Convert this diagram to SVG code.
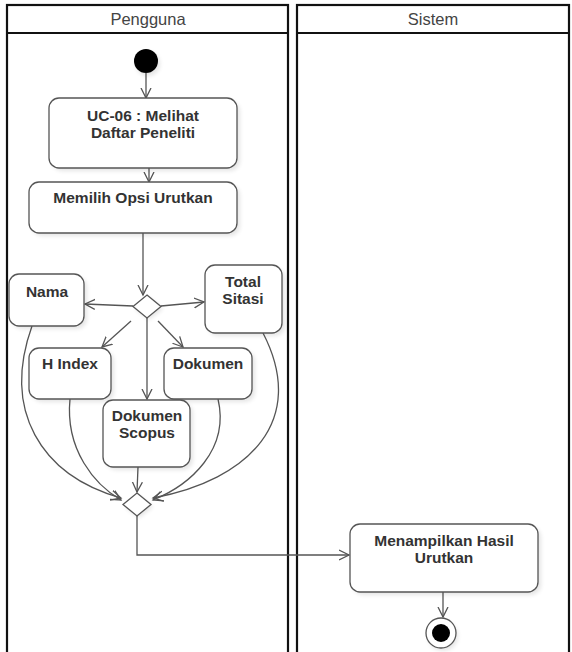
<svg xmlns="http://www.w3.org/2000/svg" width="572" height="652" viewBox="0 0 572 652">
  <style>
    .lane { fill: #fff; stroke: #111; stroke-width: 2.2; }
    .lane-title { font-family: "Liberation Sans", Arial, sans-serif; font-size: 16.5px; fill: #444; text-anchor: middle; }
    .act { fill: #fff; stroke: #555; stroke-width: 1.3; }
    .shadow { fill: #000; opacity: 0.10; filter: url(#soft); }
    .label { font-family: "Liberation Sans", Arial, sans-serif; font-size: 15.5px; font-weight: bold; fill: #333; text-anchor: middle; }
    .flow { fill: none; stroke: #555; stroke-width: 1.3; marker-end: url(#open); }
    .node-dec { fill: #fff; stroke: #555; stroke-width: 1.3; }
  </style>
  <defs>
    <filter id="soft" x="-20%" y="-20%" width="140%" height="140%">
      <feGaussianBlur stdDeviation="2"/>
    </filter>
    <marker id="open" markerWidth="12" markerHeight="12" refX="10" refY="5" orient="auto" markerUnits="userSpaceOnUse" viewBox="0 0 12 10">
      <path d="M0,0 L10,5 L0,10" fill="none" stroke="#555" stroke-width="1.3"/>
    </marker>
  </defs>

  <rect width="572" height="652" fill="#fff"/>

  <!-- swimlanes -->
  <g id="lane-pengguna">
    <rect class="lane" x="7" y="5" width="281" height="652"/>
    <line x1="7" y1="33" x2="288" y2="33" stroke="#111" stroke-width="2.2"/>
    <text class="lane-title" x="148" y="25">Pengguna</text>
  </g>
  <g id="lane-sistem">
    <rect class="lane" x="297" y="5" width="272" height="652"/>
    <line x1="297" y1="33" x2="569" y2="33" stroke="#111" stroke-width="2.2"/>
    <text class="lane-title" x="433" y="25">Sistem</text>
  </g>

  <!-- connectors -->
  <g id="connectors">
    <path class="flow" d="M146,73 L146,98"/>
    <path class="flow" d="M149,168 L149,182"/>
    <path class="flow" d="M143,233 L143,295"/>
    <path class="flow" d="M133,306 L85,304"/>
    <path class="flow" d="M161,306 L204,302"/>
    <path class="flow" d="M131,321 L102,347"/>
    <path class="flow" d="M158,321 L183,347"/>
    <path class="flow" d="M147,318 L147,399"/>
    <path class="flow" d="M32,326 C2,410 40,475 121,498"/>
    <path class="flow" d="M70,399 C65,450 95,485 121,500"/>
    <path class="flow" d="M218,399 C230,450 190,485 153,500"/>
    <path class="flow" d="M263,333 C308,420 250,480 153,498"/>
    <path class="flow" d="M138,467 L137,492"/>
    <path class="flow" d="M137,516 L137,555 L349,555"/>
    <path class="flow" d="M443,592 L443,617"/>
  </g>

  <!-- start -->
  <g id="start">
    <circle class="shadow" cx="148" cy="64" r="12"/>
    <circle cx="146" cy="61" r="12" fill="#000"/>
  </g>

  <g id="uc06">
    <rect class="shadow" x="52" y="101" width="188" height="70" rx="10"/>
    <rect class="act" x="49" y="98" width="188" height="70" rx="10"/>
    <text class="label" x="143" y="120.5">UC-06 : Melihat</text>
    <text class="label" x="143" y="138">Daftar Peneliti</text>
  </g>

  <g id="memilih">
    <rect class="shadow" x="32" y="185" width="208" height="51" rx="10"/>
    <rect class="act" x="29" y="182" width="208" height="51" rx="10"/>
    <text class="label" x="133" y="203">Memilih Opsi Urutkan</text>
  </g>

  <g id="decision">
    <path class="shadow" d="M149,298 L163,309 L149,320 L135,309 Z"/>
    <path class="node-dec" d="M147,295 L161,306.5 L147,318 L133,306.5 Z"/>
  </g>

  <g id="nama">
    <rect class="shadow" x="12" y="277" width="75" height="52" rx="10"/>
    <rect class="act" x="9" y="274" width="75" height="52" rx="10"/>
    <text class="label" x="47" y="297">Nama</text>
  </g>

  <g id="total-sitasi">
    <rect class="shadow" x="208" y="268" width="77" height="68" rx="10"/>
    <rect class="act" x="205" y="265" width="77" height="68" rx="10"/>
    <text class="label" x="243" y="286.5">Total</text>
    <text class="label" x="243" y="304">Sitasi</text>
  </g>

  <g id="h-index">
    <rect class="shadow" x="32" y="351" width="82" height="51" rx="10"/>
    <rect class="act" x="29" y="348" width="82" height="51" rx="10"/>
    <text class="label" x="70" y="369">H Index</text>
  </g>

  <g id="dokumen">
    <rect class="shadow" x="167" y="351" width="88" height="51" rx="10"/>
    <rect class="act" x="164" y="348" width="88" height="51" rx="10"/>
    <text class="label" x="208" y="369">Dokumen</text>
  </g>

  <g id="dokumen-scopus">
    <rect class="shadow" x="106" y="403" width="87" height="67" rx="10"/>
    <rect class="act" x="103" y="400" width="87" height="67" rx="10"/>
    <text class="label" x="147" y="420.5">Dokumen</text>
    <text class="label" x="147" y="438">Scopus</text>
  </g>

  <g id="merge">
    <path class="shadow" d="M139,496 L153,507 L139,518 L125,507 Z"/>
    <path class="node-dec" d="M137,493 L151,504.5 L137,516 L123,504.5 Z"/>
  </g>

  <g id="menampilkan">
    <rect class="shadow" x="353" y="527" width="188" height="68" rx="10"/>
    <rect class="act" x="350" y="524" width="188" height="68" rx="10"/>
    <text class="label" x="444" y="545.5">Menampilkan Hasil</text>
    <text class="label" x="444" y="563">Urutkan</text>
  </g>

  <g id="end">
    <circle class="shadow" cx="443" cy="636" r="15"/>
    <circle cx="441" cy="633" r="15" fill="#fff" stroke="#555" stroke-width="1.3"/>
    <circle cx="441" cy="633" r="9" fill="#000"/>
  </g>
</svg>
